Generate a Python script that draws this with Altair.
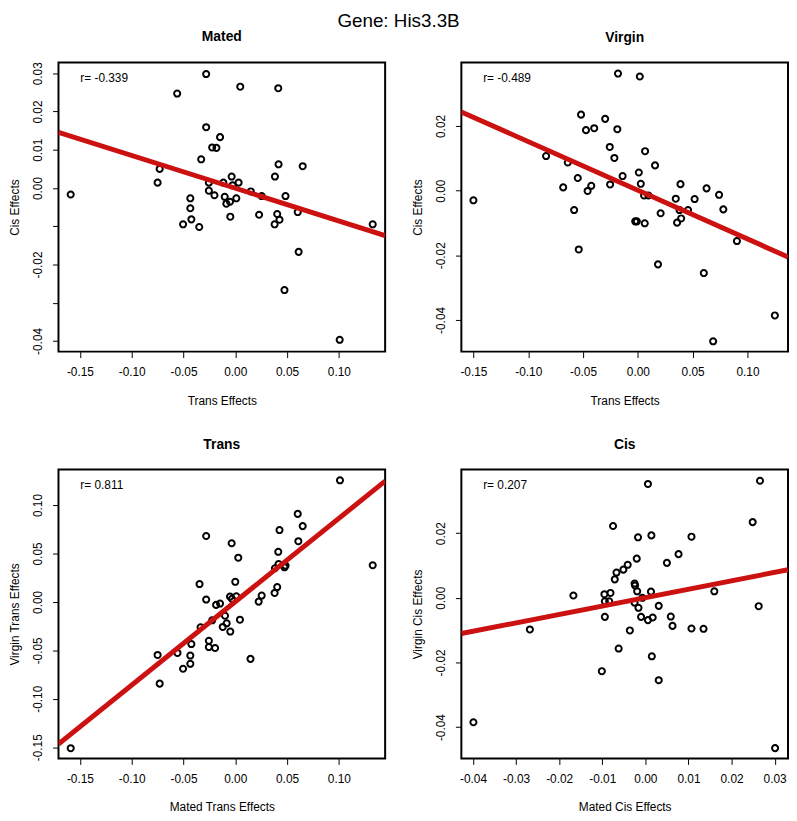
import altair as alt
import pandas as pd

# ---- Data ----
# Mated panel: x = Trans Effects (mated), y = Cis Effects (mated)
mated_x = [-0.1589, -0.0730, -0.0750, -0.0561, -0.0504, -0.0434, -0.0434, -0.0424, -0.0348,
           -0.0329, -0.0281, -0.0281, -0.0255, -0.0255, -0.0201, -0.0223, -0.0182, -0.0147,
           -0.0115, -0.0102, -0.0086, -0.0051, -0.0048, -0.0035, -0.0026, 0.0010, 0.0032,
           0.0048, 0.0150, 0.0230, 0.0255, 0.0380, 0.0383, 0.0405, 0.0415, 0.0418, 0.0427,
           0.0485, 0.0475, 0.0603, 0.0612, 0.0651, 0.1008, 0.1327]
mated_y = [-0.0017, 0.0050, 0.0014, 0.0247, -0.0095, -0.0027, -0.0053, -0.0082, -0.0102,
           0.0075, 0.0298, 0.0159, 0.0014, -0.0007, -0.0019, 0.0106, 0.0105, 0.0133,
           0.0014, -0.0023, -0.0041, -0.0036, -0.0075, 0.0030, 0.0007, -0.0027, 0.0014,
           0.0265, -0.0009, -0.0070, -0.0021, -0.0095, 0.0030, -0.0068, 0.0261, 0.0062, -0.0083,
           -0.0021, -0.0267, -0.0063, -0.0167, 0.0057, -0.0397, -0.0095]

# Virgin panel: x = Trans Effects (virgin), y = Cis Effects (virgin)
virgin_x = [-0.1500, -0.0837, -0.0681, -0.0639, -0.0581, -0.0548, -0.0539, -0.0518, -0.0473,
            -0.0458, -0.0425, -0.0398, -0.0298, -0.0256, -0.0253, -0.0214, -0.0187, -0.0181,
            -0.0139, -0.0024, -0.0009, 0.0009, 0.0018, 0.0027, 0.0057, 0.0063, 0.0066, 0.0096,
            0.0157, 0.0184, 0.0208, 0.0346, 0.0358, 0.0380, 0.0389, 0.0395, 0.0458, 0.0518,
            0.0602, 0.0627, 0.0687, 0.0741, 0.0780, 0.0904, 0.1250]
virgin_y = [-0.0030, 0.0107, 0.0010, 0.0087, -0.0060, 0.0039, -0.0182, 0.0235, 0.0187,
            -0.0001, 0.0015, 0.0193, 0.0222, 0.0135, 0.0019, 0.0101, 0.0190, 0.0362,
            0.0045, -0.0095, -0.0095, 0.0056, 0.0353, 0.0021, -0.0015, -0.0101, 0.0122, -0.0015,
            0.0078, -0.0228, -0.0070, -0.0025, -0.0099, -0.0060, 0.0020, -0.0086, -0.0060, -0.0026,
            -0.0255, 0.0007, -0.0466, -0.0013, -0.0058, -0.0156, -0.0386]

# Trans panel: x = Mated Trans Effects, y = Virgin Trans Effects
trans_x = [-0.1589, -0.0750, -0.0730, -0.0558, -0.0504, -0.0434, -0.0434, -0.0424, -0.0345,
           -0.0335, -0.0281, -0.0281, -0.0255, -0.0255, -0.0223, -0.0195, -0.0185, -0.0147,
           -0.0121, -0.0099, -0.0083, -0.0048, -0.0051, -0.0035, -0.0032, 0.0000, 0.0010,
           0.0029, 0.0045, 0.0147, 0.0226, 0.0255, 0.0380, 0.0383, 0.0405, 0.0415, 0.0418,
           0.0427, 0.0475, 0.0485, 0.0609, 0.0603, 0.0651, 0.1011, 0.1327]
trans_y = [-0.1510, -0.0548, -0.0844, -0.0527, -0.0690, -0.0554, -0.0639, -0.0435, 0.0184,
           -0.0262, 0.0680, 0.0024, -0.0401, -0.0466, -0.0190, -0.0476, -0.0031, -0.0017,
           -0.0259, -0.0143, -0.0221, -0.0306, 0.0054, 0.0605, 0.0031, 0.0207, 0.0058,
           0.0456, -0.0184, -0.0588, 0.0003, 0.0065, 0.0092, 0.0347, 0.0153, 0.0517, 0.0391,
           0.0741, 0.0357, 0.0374, 0.0626, 0.0908, 0.0782, 0.1255, 0.0378]

# Cis panel: x = Mated Cis Effects, y = Virgin Cis Effects
cis_x = [-0.0399, -0.0268, -0.0167, -0.0101, -0.0095, -0.0094, -0.0094, -0.0084, -0.0081,
         -0.0075, -0.0071, -0.0067, -0.0062, -0.0051, -0.0041, -0.0036, -0.0025, -0.0024,
         -0.0025, -0.0020, -0.0019, -0.0017, -0.0016, -0.0010, -0.0007, 0.0006, 0.0006,
         0.0013, 0.0014, 0.0015, 0.0017, 0.0031, 0.0031, 0.0050, 0.0059, 0.0063, 0.0077,
         0.0107, 0.0107, 0.0135, 0.0160, 0.0249, 0.0263, 0.0266, 0.0301]
cis_y = [-0.0385, -0.0098, 0.0007, -0.0227, 0.0011, -0.0011, -0.0059, -0.0011, 0.0015,
         0.0222, 0.0057, 0.0078, -0.0157, 0.0087, 0.0102, -0.0101, 0.0044, 0.0038,
         -0.0015, 0.0121, 0.0020, 0.0187, -0.0031, -0.0059, 0.0000, -0.0069, 0.0352,
         0.0019, 0.0193, -0.0181, -0.0061, -0.0025, -0.0255, 0.0108, -0.0058, -0.0087, 0.0135,
         -0.0095, 0.0189, -0.0096, 0.0020, 0.0234, -0.0026, 0.0362, -0.0465]

trans_ticks = [-0.15, -0.10, -0.05, 0.0, 0.05, 0.10]
cis_ticks_fine = [-0.04, -0.03, -0.02, -0.01, 0.0, 0.01, 0.02, 0.03]
cis_ticks_coarse = [-0.04, -0.02, 0.0, 0.02]

FONT = "Liberation Sans"
RED = "#CC1111"
W, H = 330, 292


def fmt_expr(hidden=()):
    base = "replace(format(datum.value, '.2f'), '\u2212', '-')"
    if hidden:
        cond = " || ".join(f"abs(datum.value - ({h})) < 1e-9" for h in hidden)
        return f"({cond}) ? '' : {base}"
    return base


def panel(title, xs, ys, xdom, ydom, xticks, yticks, xtitle, ytitle, rtext, yhidden=()):
    df = pd.DataFrame({"x": xs, "y": ys})
    base = alt.Chart(df)
    xenc = alt.X("x:Q", scale=alt.Scale(domain=xdom, nice=False, zero=False),
                 axis=alt.Axis(values=xticks, title=xtitle, labelExpr=fmt_expr()))
    yenc = alt.Y("y:Q", scale=alt.Scale(domain=ydom, nice=False, zero=False),
                 axis=alt.Axis(values=yticks, title=ytitle, labelAngle=-90,
                               labelExpr=fmt_expr(yhidden)))
    pts = base.mark_point(shape="circle", filled=False, color="black", size=38,
                          strokeWidth=2, opacity=1).encode(x=xenc, y=yenc)
    line = base.transform_regression("x", "y", extent=xdom).mark_line(
        color=RED, strokeWidth=5, clip=True).encode(x="x:Q", y="y:Q")
    txt = alt.Chart(pd.DataFrame({"t": [rtext]})).mark_text(
        align="left", baseline="middle", fontSize=12, font=FONT, color="black"
    ).encode(x=alt.value(22), y=alt.value(16), text="t:N")
    return alt.layer(pts, line, txt).properties(
        width=W, height=H,
        title=alt.TitleParams(title, fontWeight="bold", fontSize=14, font=FONT, offset=18),
    )


p1 = panel("Mated", mated_x, mated_y, [-0.1707, 0.1447], [-0.0428, 0.0328],
           trans_ticks, cis_ticks_fine, "Trans Effects", "Cis Effects", "r= -0.339",
           yhidden=(-0.01, -0.03))
p2 = panel("Virgin", virgin_x, virgin_y, [-0.161, 0.137], [-0.0498, 0.0396],
           trans_ticks, cis_ticks_coarse, "Trans Effects", "Cis Effects", "r= -0.489")
p3 = panel("Trans", trans_x, trans_y, [-0.1707, 0.1447], [-0.1616, 0.1367],
           trans_ticks, trans_ticks, "Mated Trans Effects", "Virgin Trans Effects", "r= 0.811")
p4 = panel("Cis", cis_x, cis_y, [-0.0427, 0.0331], [-0.0497, 0.0397],
           cis_ticks_fine, cis_ticks_coarse, "Mated Cis Effects", "Virgin Cis Effects", "r= 0.207")

chart = alt.vconcat(
    alt.hconcat(p1, p2, spacing=25),
    alt.hconcat(p3, p4, spacing=25),
    spacing=30,
).properties(
    title=alt.TitleParams("Gene: His3.3B", fontSize=19, font=FONT, fontWeight="normal",
                          anchor="middle", offset=-2),
    padding={"left": 0, "top": 0, "right": 0, "bottom": 0},
).configure_view(
    stroke="black", strokeWidth=2
).configure_axis(
    grid=False, domain=False, tickColor="black", tickSize=6, tickWidth=1,
    labelColor="black", labelFont=FONT, labelFontSize=12,
    titleColor="black", titleFont=FONT, titleFontSize=12, titleFontWeight="normal",
).configure_axisX(labelPadding=9, titlePadding=18).configure_axisY(labelPadding=8, titlePadding=10)

chart.save("out.html", embed_options={"renderer": "svg", "actions": False})
